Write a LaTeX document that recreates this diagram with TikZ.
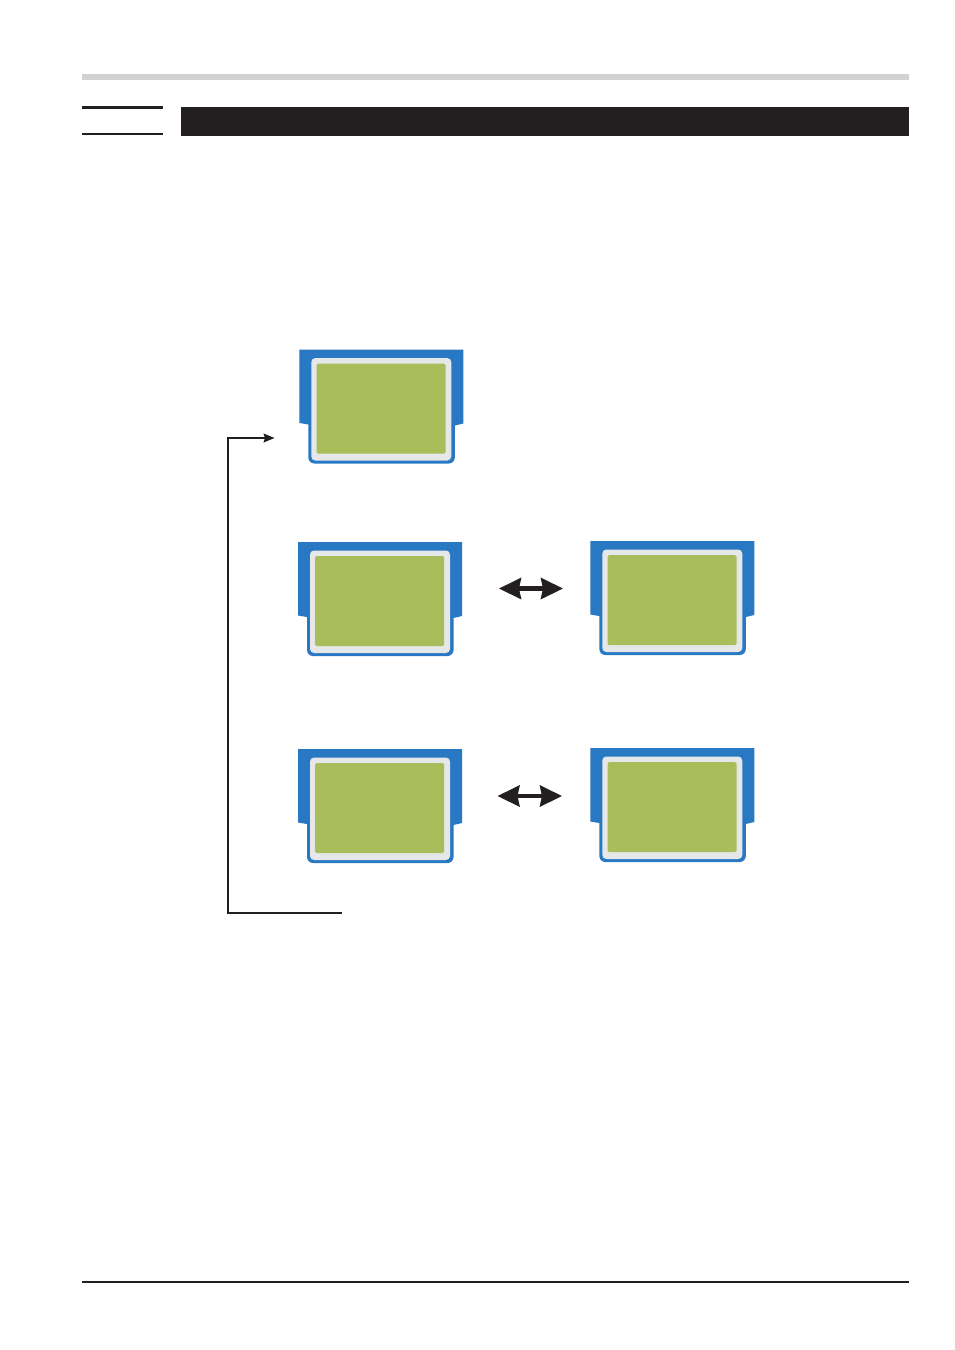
\documentclass[tikz,border=0pt]{standalone}
\usepackage{xcolor}
\usetikzlibrary{arrows.meta}

\definecolor{cardblue}{HTML}{2878C3}
\definecolor{cardgrey}{HTML}{E6E7E8}
\definecolor{cardgreen}{HTML}{A9BD5B}
\definecolor{barblack}{HTML}{231F20}
\definecolor{bargrey}{HTML}{D1D2D4}

\tikzset{
    screen/.style={fill=cardgreen, rounded corners=1.5pt, inner sep=0pt,
        minimum width=129pt, minimum height=90pt},
    swap/.style={{Stealth[length=22pt, width=21pt, inset=2pt]}-{Stealth[length=22pt, width=21pt, inset=2pt]},
        line width=4.2pt, color=barblack},
    back/.style={-{Stealth[length=11pt, width=9pt, inset=1.5pt]}, line width=1.2pt, color=barblack},
    card/.pic={
        \fill[cardblue] (0,0) -- (164,0) -- (164,74) -- (155.5,76) -- (155.5,108)
            arc[start angle=0, end angle=90, radius=6] -- (15,114)
            arc[start angle=90, end angle=180, radius=6] -- (9,75) -- (0,73.5) -- cycle;
        \fill[cardgrey, rounded corners=4pt] (12,8.5) rectangle (152,111);
        \node[screen] (-screen) at (81.7,59) {};
    }
}

\begin{document}
\begin{tikzpicture}[x=1pt, y=-1pt]
    \useasboundingbox (0,0) rectangle (954,1350);

    % Header
    \fill[bargrey] (82,73.5) rectangle (909,79.5);
    \fill[barblack] (82,106) rectangle (163,108.5);
    \fill[barblack] (82,133) rectangle (163,135);
    \fill[barblack] (181,107) rectangle (909,136);

    % Cards
    \pic (cardA) at (299.3,349.5) {card};
    \pic (cardB) at (298,542) {card};
    \pic (cardC) at (590.3,541) {card};
    \pic (cardD) at (298,749) {card};
    \pic (cardE) at (590.3,748) {card};

    % Swap arrows
    \coordinate (swapBl) at (499,588.5);
    \coordinate (swapBr) at (563,588.5);
    \coordinate (swapDl) at (497.5,796);
    \coordinate (swapDr) at (562,796);
    \draw[swap] (swapBl) -- (swapBr);
    \draw[swap] (swapDl) -- (swapDr);

    % Way back to the top
    \coordinate (backStart) at (342,913);
    \coordinate (backEnd) at (274.5,438);
    \draw[back] (backStart) -- (228,913) -- (228,438) -- (backEnd);

    % Footer
    \draw[line width=1.5pt, color=barblack] (82,1282) -- (909,1282);
\end{tikzpicture}
\end{document}
